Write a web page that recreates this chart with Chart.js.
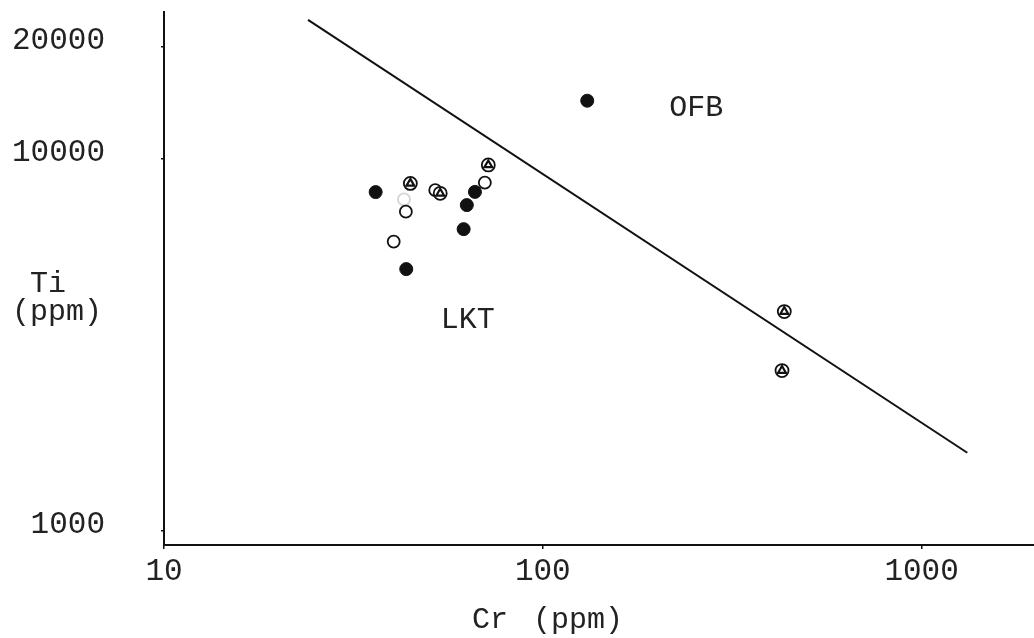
<!DOCTYPE html>
<html>
<head>
<meta charset="utf-8">
<script src="https://cdn.jsdelivr.net/npm/chart.js@4.4.1/dist/chart.umd.min.js"></script>
<style>
  html, body { margin: 0; padding: 0; background: #fff; }
  #wrap { width: 1034px; height: 638px; position: relative; }
</style>
</head>
<body>
<div id="wrap"><canvas id="TiCr"></canvas></div>
<script>
// Cr (ppm) / Ti (ppm) values
const filledCr = [36.2, 43.6, 61.8, 63.0, 66.2, 131];
const filledTi = [8150, 5060, 6480, 7520, 8160, 14350];

const openCr = [43.5, 40.4, 52.0, 70.3];
const openTi = [7220, 6000, 8250, 8640];

const faintCr = [43.0];
const faintTi = [7790];

const triCr = [44.7, 53.6, 71.8, 434, 428];
const triTi = [8600, 8090, 9640, 3890, 2700];

// boundary line OFB / LKT
const lineCr = [24.0, 1320];
const lineTi = [23670, 1623];

const xTicks = [10, 100, 1000];
const yTicks = [1000, 10000, 20000];

const fieldLabels = [
    { text: 'OFB', cr: 254, ti: 13700 },
    { text: 'LKT', cr: 63.4, ti: 3690 }
];

const FONT = '"Liberation Mono", "Courier New", monospace';

function pts(xs, ys) {
    return xs.map((x, i) => ({ x: x, y: ys[i] }));
}

// no extra padding around the scales, the plot box is fixed
function noPad(s) {
    s.paddingTop = 0;
    s.paddingBottom = 0;
    s.paddingLeft = 0;
    s.paddingRight = 0;
}

// text on the plot: field names and axis titles
const textPlugin = {
    id: 'plotText',
    afterDraw(chart) {
        const ctx = chart.ctx;
        const xs = chart.scales.x, ys = chart.scales.y;
        ctx.save();
        ctx.fillStyle = '#222';
        ctx.font = '30px ' + FONT;
        ctx.textAlign = 'center';
        ctx.textBaseline = 'middle';
        fieldLabels.forEach(l => {
            ctx.fillText(l.text, xs.getPixelForValue(l.cr), ys.getPixelForValue(l.ti));
        });
        ctx.textBaseline = 'alphabetic';
        ctx.fillText('Ti', 48, 292);
        ctx.fillText('(ppm)', 57, 320);
        ctx.fillText('Cr', 490, 628);
        ctx.fillText('(ppm)', 578, 628);
        ctx.restore();
    }
};

const canvasElement = document.getElementById('TiCr');

new Chart(canvasElement, {
    type: 'scatter',
    data: {
        datasets: [
            {
                label: 'boundary',
                type: 'line',
                data: pts(lineCr, lineTi),
                borderColor: '#111',
                borderWidth: 2,
                pointRadius: 0,
                fill: false,
                order: 5
            },
            {
                label: 'filled',
                data: pts(filledCr, filledTi),
                pointStyle: 'circle',
                pointRadius: 6.5,
                backgroundColor: '#111',
                borderColor: '#111',
                borderWidth: 1,
                order: 2
            },
            {
                label: 'open',
                data: pts(openCr, openTi),
                pointStyle: 'circle',
                pointRadius: 6,
                backgroundColor: '#fff',
                borderColor: '#111',
                borderWidth: 1.8,
                order: 3
            },
            {
                label: 'faint',
                data: pts(faintCr, faintTi),
                pointStyle: 'circle',
                pointRadius: 6,
                backgroundColor: 'rgba(255,255,255,0)',
                borderColor: '#d4d4d4',
                borderWidth: 1.8,
                order: 4
            },
            {
                label: 'tri-circle',
                data: pts(triCr, triTi),
                pointStyle: 'circle',
                pointRadius: 6.5,
                backgroundColor: '#fff',
                borderColor: '#111',
                borderWidth: 1.8,
                order: 1
            },
            {
                label: 'tri',
                data: pts(triCr, triTi),
                pointStyle: 'triangle',
                pointRadius: 4.5,
                backgroundColor: '#fff',
                borderColor: '#111',
                borderWidth: 2.2,
                order: 0
            }
        ]
    },
    options: {
        responsive: true,
        maintainAspectRatio: false,
        animation: false,
        layout: { autoPadding: false, padding: { top: 12, right: 0, left: 0, bottom: 0 } },
        plugins: {
            legend: { display: false },
            tooltip: { enabled: false },
            title: { display: false }
        },
        scales: {
            x: {
                type: 'logarithmic',
                min: 10,
                max: 1980,
                afterBuildTicks: s => { s.ticks = xTicks.map(v => ({ value: v })); },
                afterFit: s => { s.height = 93; noPad(s); },
                border: { display: true, color: '#111', width: 2 },
                grid: { display: true, drawOnChartArea: false, drawTicks: true, tickLength: 4, color: '#111', lineWidth: 1.5 },
                ticks: {
                    color: '#222',
                    font: { family: FONT, size: 31 },
                    padding: 4,
                    maxRotation: 0,
                    autoSkip: false,
                    callback: v => String(v)
                }
            },
            y: {
                type: 'logarithmic',
                min: 917,
                max: 24850,
                afterBuildTicks: s => { s.ticks = yTicks.map(v => ({ value: v })); },
                afterFit: s => { s.width = 164; noPad(s); },
                border: { display: true, color: '#111', width: 2 },
                grid: { display: true, drawOnChartArea: false, drawTicks: true, tickLength: 3, color: '#111', lineWidth: 1.5 },
                ticks: {
                    color: '#222',
                    font: { family: FONT, size: 31 },
                    padding: 56,
                    labelOffset: -6,
                    autoSkip: false,
                    callback: v => String(v)
                }
            }
        }
    },
    plugins: [textPlugin]
});
</script>
</body>
</html>
